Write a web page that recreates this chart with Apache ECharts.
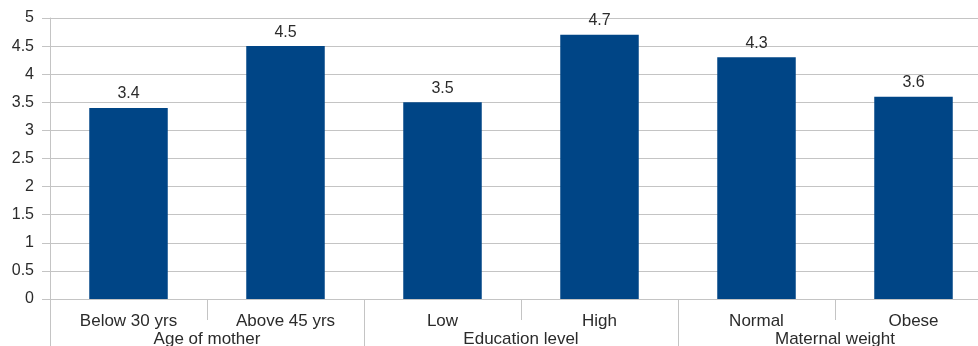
<!DOCTYPE html>
<html>
<head>
<meta charset="utf-8">
<script src="https://cdn.jsdelivr.net/npm/echarts@6/dist/echarts.min.js"></script>
<style>
  html, body { margin: 0; padding: 0; background: #fff; overflow: hidden; width: 978px; height: 346px; }
  /* the canvas is wider than the page so the last column runs off the right edge */
  #chart { width: 1000px; height: 346px; }
</style>
</head>
<body>
<div id="chart"></div>
<script>
// Subgroup labels along the bottom row, and the groups they belong to
const categories = ['Below 30 yrs', 'Above 45 yrs', 'Low', 'High', 'Normal', 'Obese'];
const groups = ['Age of mother', 'Education level', 'Maternal weight'];
const values = [3.4, 4.5, 3.5, 4.7, 4.3, 3.6];

const gray = '#c4c4c4';
const textColor = '#2b2b2b';
const font = 'Liberation Sans, Arial, sans-serif';

const chart = echarts.init(document.getElementById('chart'), null, { renderer: 'canvas' });
chart.setOption({
  animation: false,
  backgroundColor: '#ffffff',
  grid: { left: 50, right: 8, top: 18, bottom: 47, containLabel: false, outerBoundsMode: 'none' },
  xAxis: [
    {
      type: 'category',
      data: categories,
      position: 'bottom',
      axisLine: { show: true, lineStyle: { color: gray, width: 1 } },
      axisTick: { show: true, length: 21, lineStyle: { color: gray } },
      axisLabel: { color: textColor, fontSize: 17, fontFamily: font, margin: 14 },
      splitLine: { show: false }
    },
    {
      type: 'category',
      data: groups,
      position: 'bottom',
      axisLine: { show: false },
      axisTick: { show: true, length: 48, inside: false, lineStyle: { color: gray } },
      axisLabel: { color: textColor, fontSize: 17, fontFamily: font, margin: 32 },
      splitLine: { show: false }
    }
  ],
  yAxis: {
    type: 'value',
    min: 0,
    max: 5,
    interval: 0.5,
    axisLine: { show: true, lineStyle: { color: gray } },
    axisTick: { show: true, length: 8, lineStyle: { color: gray } },
    axisLabel: { color: textColor, fontSize: 16, fontFamily: font, margin: 16 },
    splitLine: { show: true, lineStyle: { color: gray, width: 1 } }
  },
  series: [{
    type: 'bar',
    xAxisIndex: 0,
    data: values,
    barWidth: '50%',
    itemStyle: { color: '#004586' },
    label: {
      show: true,
      position: 'top',
      distance: 6,
      color: textColor,
      fontSize: 16,
      fontFamily: font
    }
  }]
});
</script>
</body>
</html>
